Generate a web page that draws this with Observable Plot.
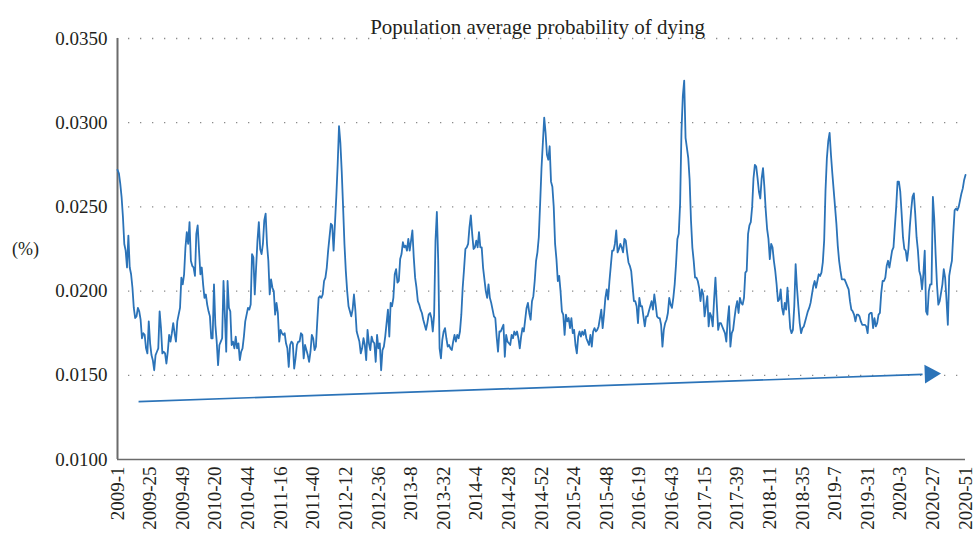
<!DOCTYPE html>
<html><head><meta charset="utf-8">
<script src="https://cdn.jsdelivr.net/npm/d3@7"></script>
<script src="https://cdn.jsdelivr.net/npm/@observablehq/plot@0.6"></script>
<style>html,body{margin:0;padding:0;background:#fff;}</style>
</head><body><div id="chart"></div>
<script>
const title = "Population average probability of dying";
const yLabel = "(%)";
const yTicks = [0.0100, 0.0150, 0.0200, 0.0250, 0.0300, 0.0350];
const gridValues = [0.0150, 0.0200, 0.0250, 0.0300, 0.0350];
const tickLabels = ["2009-1","2009-25","2009-49","2010-20","2010-44","2011-16","2011-40","2012-12","2012-36","2013-8","2013-32","2014-4","2014-28","2014-52","2015-24","2015-48","2016-19","2016-43","2017-15","2017-39","2018-11","2018-35","2019-7","2019-31","2020-3","2020-27","2020-51"];
const tickStep = 24; // weeks between labels

const rate2009 = [.0272,.0270,.0264,.0256,.0244,.0228,.0224,.0214,.0233,.0214,.0210,.0202,.0190,.0184,.0185,.0190,.0188,.0183,.0172,.0175,.0174,.0166,.0163,.0182,.0169,.0162,.0159,.0153,.0162,.0164,.0166,.0188,.0178,.0163,.0164,.0163,.0157,.0164,.0174,.0170,.0175,.0181,.0175,.0170,.0182,.0186,.0190,.0208,.0204,.0210,.0226,.0235,.0228];
const rate2010 = [.0241,.0218,.0215,.0214,.0209,.0234,.0239,.0224,.0210,.0214,.0204,.0196,.0198,.0192,.0188,.0185,.0172,.0172,.0204,.0180,.0170,.0156,.0168,.0170,.0172,.0206,.0186,.0164,.0206,.0190,.0188,.0168,.0170,.0166,.0173,.0166,.0169,.0159,.0164,.0166,.0173,.0182,.0186,.0190,.0189,.0192,.0222,.0220,.0198,.0214,.0230,.0241];
const rate2011 = [.0225,.0222,.0228,.0242,.0246,.0228,.0218,.0198,.0207,.0202,.0200,.0186,.0193,.0187,.0170,.0177,.0175,.0174,.0175,.0169,.0166,.0155,.0168,.0170,.0169,.0154,.0160,.0168,.0170,.0170,.0175,.0174,.0160,.0168,.0165,.0162,.0158,.0164,.0174,.0172,.0165,.0167,.0182,.0196,.0197,.0196,.0198,.0206,.0208,.0214,.0224,.0232];
const rate2012 = [.0240,.0239,.0224,.0240,.0256,.0275,.0298,.0288,.0271,.0250,.0228,.0212,.0200,.0191,.0188,.0185,.0189,.0198,.0189,.0176,.0173,.0170,.0163,.0166,.0172,.0168,.0159,.0177,.0169,.0165,.0173,.0170,.0169,.0158,.0174,.0166,.0169,.0153,.0165,.0167,.0173,.0181,.0189,.0173,.0193,.0191,.0196,.0210,.0213,.0205,.0206,.0219];
const rate2013 = [.0222,.0229,.0226,.0227,.0224,.0231,.0224,.0230,.0236,.0220,.0208,.0202,.0194,.0192,.0189,.0187,.0183,.0180,.0177,.0181,.0186,.0187,.0184,.0176,.0186,.0230,.0247,.0218,.0166,.0160,.0171,.0176,.0178,.0172,.0167,.0168,.0166,.0165,.0170,.0174,.0170,.0174,.0172,.0176,.0186,.0202,.0213,.0225,.0226,.0228,.0238,.0245];
const rate2014 = [.0234,.0225,.0226,.0230,.0226,.0235,.0226,.0226,.0214,.0207,.0200,.0196,.0204,.0196,.0193,.0189,.0185,.0184,.0173,.0164,.0176,.0176,.0178,.0180,.0161,.0174,.0170,.0169,.0168,.0174,.0172,.0176,.0174,.0176,.0172,.0166,.0173,.0178,.0176,.0183,.0190,.0193,.0187,.0183,.0194,.0197,.0206,.0218,.0223,.0232,.0252,.0273];
const rate2015 = [.0288,.0303,.0294,.0281,.0278,.0286,.0265,.0262,.0250,.0228,.0219,.0206,.0209,.0200,.0188,.0186,.0174,.0186,.0182,.0184,.0178,.0184,.0175,.0177,.0168,.0163,.0173,.0176,.0173,.0176,.0174,.0177,.0172,.0170,.0168,.0174,.0167,.0176,.0178,.0176,.0177,.0179,.0184,.0189,.0178,.0186,.0196,.0201,.0195,.0206,.0215,.0224,.0224];
const rate2016 = [.0228,.0236,.0223,.0225,.0228,.0226,.0223,.0231,.0230,.0223,.0217,.0215,.0212,.0203,.0194,.0194,.0191,.0181,.0196,.0191,.0191,.0185,.0179,.0185,.0185,.0188,.0191,.0194,.0189,.0198,.0192,.0185,.0184,.0184,.0180,.0167,.0177,.0181,.0183,.0187,.0196,.0192,.0190,.0196,.0204,.0216,.0231,.0234,.0252,.0295,.0316,.0325];
const rate2017 = [.0291,.0285,.0279,.0266,.0242,.0226,.0218,.0208,.0208,.0206,.0202,.0194,.0201,.0198,.0185,.0191,.0197,.0179,.0187,.0185,.0179,.0195,.0208,.0192,.0177,.0181,.0181,.0179,.0177,.0175,.0170,.0183,.0191,.0167,.0175,.0177,.0184,.0190,.0194,.0187,.0196,.0193,.0192,.0196,.0211,.0212,.0234,.0239,.0241,.0250,.0267,.0275];
const rate2018 = [.0274,.0267,.0259,.0255,.0267,.0273,.0262,.0248,.0237,.0231,.0219,.0228,.0226,.0218,.0212,.0204,.0194,.0195,.0201,.0190,.0186,.0193,.0189,.0202,.0190,.0178,.0175,.0177,.0191,.0216,.0202,.0191,.0181,.0175,.0178,.0179,.0182,.0185,.0188,.0190,.0193,.0198,.0203,.0206,.0202,.0206,.0210,.0209,.0211,.0217,.0230,.0260];
const rate2019 = [.0279,.0289,.0294,.0281,.0270,.0260,.0250,.0240,.0227,.0218,.0212,.0207,.0207,.0207,.0205,.0203,.0201,.0194,.0189,.0188,.0186,.0182,.0186,.0186,.0185,.0182,.0180,.0180,.0180,.0179,.0175,.0186,.0187,.0187,.0178,.0184,.0179,.0181,.0186,.0187,.0199,.0206,.0206,.0208,.0215,.0218,.0214,.0219,.0224,.0226,.0238,.0250];
const rate2020 = [.0265,.0265,.0259,.0246,.0232,.0225,.0224,.0218,.0225,.0238,.0248,.0256,.0258,.0246,.0232,.0224,.0212,.0209,.0201,.0210,.0224,.0188,.0186,.0200,.0204,.0204,.0256,.0243,.0222,.0204,.0192,.0194,.0199,.0204,.0213,.0208,.0195,.0180,.0209,.0214,.0218,.0234,.0248,.0249,.0248,.0250,.0254,.0258,.0261,.0266,.0269];

// trend arrow annotation: [week index, value]
const trendArrow = [[15.5, 0.01344], [592.4, 0.01505]];
const trendHead = [[598, 0.01508]];

const rates = [].concat(rate2009, rate2010, rate2011, rate2012, rate2013, rate2014, rate2015, rate2016, rate2017, rate2018, rate2019, rate2020);
const series = rates.map((v, i) => ({i, v}));
const tickIdx = tickLabels.map((_, k) => k * tickStep);
const blue = "#2b73b8";
const font = "'Liberation Serif', 'DejaVu Serif', serif";

const chart = Plot.plot({
  width: 974, height: 538,
  marginLeft: 117, marginRight: 9, marginTop: 38, marginBottom: 79,
  style: {fontFamily: font, fontSize: "19px", color: "#231f20", background: "#fff"},
  x: {domain: [0, rates.length - 1], ticks: tickIdx, tickFormat: d => tickLabels[Math.round(d / tickStep)], tickRotate: -90, tickSize: 0, tickPadding: 7, label: null},
  y: {domain: [yTicks[0], yTicks[yTicks.length - 1]], ticks: yTicks, tickFormat: d3.format(".4f"), tickSize: 0, tickPadding: 10, label: null},
  marks: [
    Plot.ruleY(gridValues, {stroke: "#8a8a8a", strokeWidth: 1.3, strokeDasharray: "1.3 10.7", strokeDashoffset: -11}),
    Plot.ruleY([yTicks[0]], {stroke: "#6b6b6b", strokeWidth: 1.5}),
    Plot.ruleX([0], {stroke: "#6b6b6b", strokeWidth: 2}),
    Plot.line(series, {x: "i", y: "v", stroke: blue, strokeWidth: 1.8}),
    Plot.link([trendArrow], {x1: d => d[0][0], y1: d => d[0][1], x2: d => d[1][0], y2: d => d[1][1], stroke: blue, strokeWidth: 1.7}),
    Plot.dot(trendHead, {x: d => d[0], y: d => d[1], symbol: "triangle", r: 7, fill: blue, stroke: "none", rotate: 88}),
    Plot.text([title], {frameAnchor: "top", dy: -19, dx: -4, fontSize: 21}),
    Plot.text([yLabel], {frameAnchor: "left", dx: -92, textAnchor: "middle", fontSize: 18})
  ]
});
document.getElementById("chart").appendChild(chart);
</script>
</body></html>
